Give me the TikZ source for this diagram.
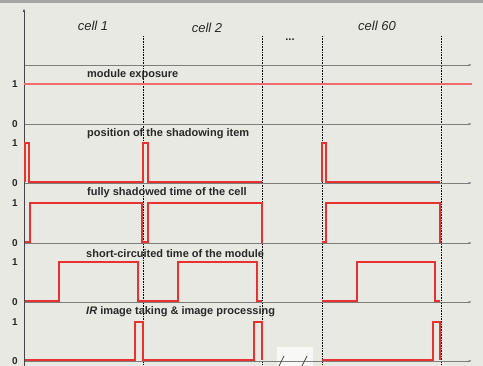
\documentclass[tikz,border=0pt]{standalone}
\usepackage{fontspec}
\setmainfont{Liberation Sans}
\usetikzlibrary{arrows.meta}
\definecolor{bgc}{RGB}{233,233,228}
\definecolor{barc}{RGB}{165,165,165}
\definecolor{axc}{RGB}{125,125,125}
\definecolor{yaxc}{RGB}{70,70,70}
\definecolor{sigc}{RGB}{232,50,50}
\definecolor{pinkc}{RGB}{238,110,110}
\definecolor{txtc}{RGB}{40,40,40}
\begin{document}
\begin{tikzpicture}[x=1pt,y=-1pt,
  haxis/.style={draw=axc,line width=0.8pt,-{Latex[length=3.5pt,width=2.5pt]}},
  sig/.style={draw=sigc,line width=1.2pt,line join=miter},
  divider/.style={draw=black,line width=0.6pt,densely dotted},
  ptitle/.style={font=\bfseries\fontsize{11}{13}\selectfont,text=txtc,anchor=west,inner sep=0pt},
  celllbl/.style={font=\itshape\fontsize{13}{15}\selectfont,text=txtc,inner sep=0pt},
  lvl/.style={font=\bfseries\fontsize{10}{12}\selectfont,text=txtc,inner sep=0pt}]
\useasboundingbox (0,0) rectangle (483,366);
\fill[bgc] (0,0) rectangle (483,366);
\fill[barc] (0,0) rectangle (483,3);
% break mark background
\fill[white!70!bgc] (277,347) rectangle (313,366);
% dividers
\foreach \x in {143,262,322,441} \draw[divider] (\x,36) -- (\x,366);
% horizontal axes
\foreach \y in {65,124,183,243,302,361} \draw[haxis] (24,\y) -- (472,\y);
% y axis
\draw[draw=yaxc,line width=0.8pt,-{Latex[length=4pt,width=2.5pt]}] (24,366) -- (24,8);
% break slashes
\draw[yaxc,line width=0.7pt] (279,366) -- (284,356);
\draw[yaxc,line width=0.7pt] (302,366) -- (307,356);
% labels
\node[celllbl] (c1) at (93,26) {cell 1};
\node[celllbl] (c2) at (207,28) {cell 2};
\node[celllbl] (c60) at (377,26) {cell 60};
\node[font=\bfseries\fontsize{11}{12}\selectfont,text=txtc] (dots) at (290,40) {...};
\node[ptitle] (t1) at (87,75) {module exposure};
\node[ptitle] (t2) at (87,134) {position of the shadowing item};
\node[ptitle] (t3) at (87,193) {fully shadowed time of the cell};
\node[ptitle] (t4) at (86,254) {short-circuited time of the module};
\node[ptitle] (t5) at (86,312) {\textit{IR} image taking \& image processing};
\foreach \y/\n in {84/a,143/b,203/c,262/d,322/e} \node[lvl] (one\n) at (15,\y) {1};
\foreach \y/\n in {124/a,183/b,243/c,302/d,361/e} \node[lvl] (zero\n) at (15,\y) {0};
% module exposure
\draw[pinkc,line width=1.2pt] (24,84) -- (472,84);
% position of the shadowing item
\draw[sig] (25,182) -- (25,143) -- (29,143) -- (29,182) -- (143,182) -- (143,143) -- (148,143) -- (148,182) -- (262,182);
\draw[sig] (322,182) -- (322,143) -- (326,143) -- (326,182) -- (440,182);
% fully shadowed
\draw[sig] (25,242) -- (30,242) -- (30,203) -- (142,203) -- (142,242) -- (148,242) -- (148,203) -- (262,203) -- (262,243);
\draw[sig] (322,242) -- (326,242) -- (326,203) -- (440,203) -- (440,243);
% short-circuited
\draw[sig] (25,301) -- (59,301) -- (59,262) -- (138,262) -- (138,301) -- (178,301) -- (178,262) -- (257,262) -- (257,301) -- (262,301);
\draw[sig] (322,301) -- (357,301) -- (357,262) -- (435,262) -- (435,301) -- (440,301);
% IR image
\draw[sig] (25,360) -- (135,360) -- (135,322) -- (143,322) -- (143,360) -- (254,360) -- (254,322) -- (262,322) -- (262,360);
\draw[sig] (322,360) -- (433,360) -- (433,322) -- (440,322) -- (440,360);
\end{tikzpicture}
\end{document}
